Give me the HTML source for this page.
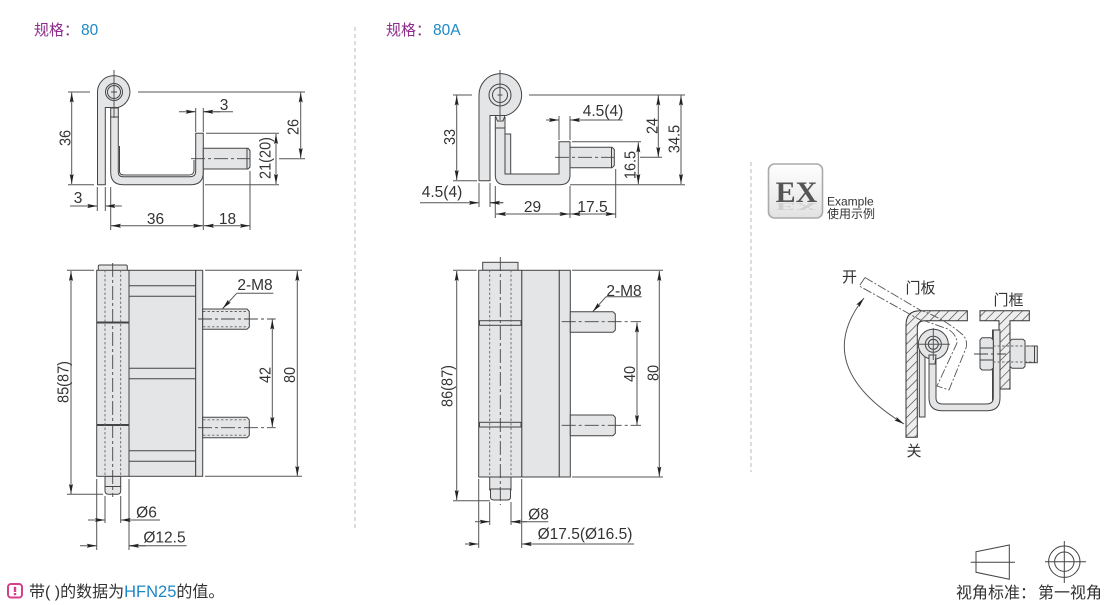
<!DOCTYPE html>
<html lang="zh"><head><meta charset="utf-8"><title>规格</title>
<style>
html,body{margin:0;padding:0;background:#fff;width:1110px;height:605px;overflow:hidden}
svg{display:block}
text{font-family:"Liberation Sans","Noto Sans CJK SC",sans-serif;fill:#333}
.t{font-size:15.5px;text-anchor:middle}
.r{font-size:14.5px;text-anchor:middle}
.c{font-size:15px;text-anchor:middle}
.p{fill:#e4e5e6;stroke:#444;stroke-width:1}
.l{stroke:#444;stroke-width:1;fill:none}
.d{stroke:#555;stroke-width:1;fill:none}
.a{stroke:#555;stroke-width:1;fill:none;marker-end:url(#ar)}
.b{stroke:#555;stroke-width:1;fill:none;marker-start:url(#ar);marker-end:url(#ar)}
.cl{stroke:#444;stroke-width:.9;fill:none;stroke-dasharray:14 3 3 3}
.dt{stroke:#666;stroke-width:.9;fill:none;stroke-dasharray:2.5 2}
.ph{stroke:#555;stroke-width:.9;fill:none;stroke-dasharray:9 2 2 2}
</style></head><body>
<svg width="1110" height="605" viewBox="0 0 1110 605" xmlns="http://www.w3.org/2000/svg">
<defs>
<marker id="ar" viewBox="0 0 10 4" refX="10" refY="2" markerWidth="10" markerHeight="4.6" markerUnits="userSpaceOnUse" orient="auto-start-reverse"><path d="M0 0L10 2L0 4L1.5 2Z" fill="#222"/></marker>
<pattern id="ht" width="6.5" height="6.5" patternUnits="userSpaceOnUse" patternTransform="rotate(-45)"><rect width="6.5" height="6.5" fill="#eeeeee"/><line x1="0" y1="0" x2="6.5" y2="0" stroke="#333" stroke-width="1.2"/></pattern>
<linearGradient id="ex" x1="0" y1="0" x2="0" y2="1"><stop offset="0" stop-color="#ffffff"/><stop offset="1" stop-color="#e2e2e2"/></linearGradient>
</defs>

<!-- headers -->
<text x="34" y="35" style="font-size:15px;fill:#8f2c8c">规格：<tspan x="81" style="fill:#1d87c6;font-size:15.5px">80</tspan></text>
<text x="386" y="35" style="font-size:15px;fill:#8f2c8c">规格：<tspan x="433" style="fill:#1d87c6;font-size:15.5px">80A</tspan></text>

<!-- dividers -->
<line x1="355" y1="27" x2="355" y2="528" stroke="#bbb" stroke-dasharray="4 3"/>
<line x1="751" y1="162" x2="751" y2="472" stroke="#bbb" stroke-dasharray="4 3"/>

<!-- ===== 80 side view ===== -->
<path class="p" d="M97.5 184.7V92A16.2 16.2 0 1 1 118 107.5L105.3 107.5V184.7Z"/>
<path class="p" d="M110.7 117H118.3V172Q118.3 176.7 123 176.7H190Q195.7 176.7 195.7 171V133.3H203.3V172Q203.3 184.7 191 184.7H123Q110.7 184.7 110.7 172Z"/>
<path class="l" d="M119.5 146V172Q120 175 124 175H189Q193.5 175 194 171V160"/>
<rect class="p" x="110.7" y="108" width="7.6" height="9"/>
<circle class="l" cx="114" cy="92" r="8.5" fill="#e4e5e6"/><circle class="l" cx="114" cy="92" r="6.5"/>
<path class="l" d="M111 92H117M114 89V95" stroke-width=".7"/>
<path class="p" d="M203.3 148.3H248L250 150.5V167L248 169H203.3Z"/>
<path class="l" d="M247 148.3V169"/>
<path class="cl" d="M191 158.7H250"/>
<path class="d" d="M114 70V118"/>
<path class="d" d="M68 92H90M138 92H305M68 184.7H94M205 184.7H279M206 133.3H279M279 158.7H305"/>
<path class="b" d="M71.7 92.5V184"/>
<path class="b" d="M300.7 92.5V158"/>
<path class="b" d="M276 134V184"/>
<text class="r" transform="translate(65,138) rotate(-90) scale(1,1.1)" y="5">36</text>
<text class="r" transform="translate(293,127) rotate(-90) scale(1,1.1)" y="5">26</text>
<text class="r" transform="translate(265,158) rotate(-90) scale(1,1.1)" y="5">21(20)</text>
<path class="d" d="M195.7 108V132M203.3 108V132M97.3 187V211M105.3 187V211M110.7 187V230M203.3 170V230M250 171V230"/>
<path class="a" d="M179 111.7H195.7"/><path class="d" d="M203.3 111.7H233"/><path class="a" d="M220 111.7H203.3"/>
<path class="a" d="M70 206H97.3"/><path class="d" d="M105.3 206H121.7"/><path class="a" d="M121.7 206H105.3"/>
<path class="b" d="M111 225.7H203"/><path class="b" d="M204 225.7H250"/>
<text class="t" x="224" y="110">3</text><text class="t" x="78" y="203">3</text>
<text class="t" x="155.5" y="224">36</text><text class="t" x="227.5" y="224">18</text>

<!-- ===== 80 front view ===== -->
<path class="p" d="M105 476.3H120.7V491Q120.7 494.3 117 494.3H109Q105 494.3 105 491Z"/>
<path class="l" d="M105 486.5H120.7"/>
<rect class="p" x="98.3" y="265" width="29" height="6" rx="1.5"/>
<rect class="p" x="129" y="270.3" width="66.7" height="206"/>
<rect class="p" x="195.7" y="270.3" width="7" height="206"/>
<rect class="p" x="96.7" y="270.3" width="32.3" height="206"/>
<path class="l" d="M129 285.7H195.7M129 296.3H195.7M129 368.3H195.7M129 378.7H195.7M129 450.7H195.7M129 461.3H195.7"/>
<path d="M96.7 322.5H129M96.7 425H129" stroke="#444" stroke-width="2"/>
<path class="dt" d="M105 270V476M120.7 270V476"/>
<path class="cl" d="M112.7 263V497"/>
<path class="p" d="M202.7 309H247L249.3 311.5V327L247 329.3H202.7Z"/><path class="p" d="M202.7 417.3H247L249.3 419.8V435.3L247 437.7H202.7Z"/>
<path class="dt" d="M203 311.5H247M203 326.8H247M203 419.8H247M203 435.2H247"/>
<path class="cl" d="M198 319H275.7M198 427.7H275.7"/>
<path class="d" d="M205 270.3H302M205 476.3H302M67 270.3H94M67 494.3H103"/>
<path class="b" d="M272.3 319.5V427"/><path class="b" d="M297.3 271V476"/><path class="b" d="M71 271V494"/>
<text class="r" transform="translate(265,375) rotate(-90) scale(1,1.1)" y="5">42</text>
<text class="r" transform="translate(289.5,375) rotate(-90) scale(1,1.1)" y="5">80</text>
<text class="r" transform="translate(63,382) rotate(-90) scale(1,1.1)" y="5">85(87)</text>
<text class="t" x="255" y="290">2-M8</text>
<path class="d" d="M273.3 293.3H236.7"/><path class="a" d="M236.7 293.3L222.7 308.5"/>
<path class="d" d="M96.7 479V550M129 479V550M105 496V523M120.7 496V523"/>
<path class="a" d="M88 520H105"/><path class="d" d="M120.7 520H160"/><path class="a" d="M137 520H120.7"/>
<path class="a" d="M80 545.7H96.7"/><path class="d" d="M129 545.7H186.7"/><path class="a" d="M146 545.7H129"/>
<text class="t" x="146.5" y="517.5">Ø6</text><text class="t" x="164.5" y="542.5">Ø12.5</text>

<!-- ===== 80A side view ===== -->
<path class="p" d="M479 180.7V95A21.3 21.3 0 1 1 506 115.5L490 115.5V180.7Z"/>
<rect class="p" x="505" y="134" width="5.7" height="40"/>
<path class="p" d="M495.3 117.5H505V174H559V141.7H570V175Q570 184.7 560 184.7H505Q495.3 184.7 495.3 175Z"/>
<path class="l" d="M495.3 128H505"/>
<path class="p" d="M495.3 115.5H505L503 121H497.5Z"/>
<circle class="l" cx="500" cy="95" r="11" fill="#e4e5e6"/><circle class="l" cx="500" cy="95" r="7.5"/>
<path class="l" d="M497.5 95H502.5M500 92.5V97.5" stroke-width=".7"/>
<path class="p" d="M570 147.3H612L614.3 149.5V165.5L612 167.7H570Z"/>
<path class="l" d="M611.5 147.3V167.7"/>
<path class="cl" d="M555 157.3H614"/>
<path class="d" d="M500 70V120"/>
<path class="d" d="M453 95H472M529 95H685M453 180.7H477M572 141.7H641M570 184.7H685M640 157.3H662"/>
<path class="b" d="M456.7 95.5V180"/><path class="b" d="M658.3 95.5V157"/><path class="b" d="M681 95.5V184"/><path class="b" d="M638.3 142.5V184"/>
<text class="r" transform="translate(449.5,137) rotate(-90) scale(1,1.1)" y="5">33</text>
<text class="r" transform="translate(652,126) rotate(-90) scale(1,1.1)" y="5">24</text>
<text class="r" transform="translate(674,139) rotate(-90) scale(1,1.1)" y="5">34.5</text>
<text class="r" transform="translate(630,165) rotate(-90) scale(1,1.1)" y="5">16.5</text>
<path class="d" d="M559 116V140M570 116V140M479 183V207M490 183V207M495.3 186V218M570 186V218M615.7 169V218"/>
<path class="a" d="M546 120H559"/><path class="d" d="M570 120H622.7"/><path class="a" d="M585 120H570"/>
<path class="a" d="M420 202.7H479"/><path class="d" d="M490 202.7H503.3"/><path class="a" d="M503.3 202.7H490"/>
<path class="b" d="M496 214H569.5"/><path class="b" d="M570.5 214H615.5"/>
<text class="t" x="603" y="116">4.5(4)</text><text class="t" x="442" y="197">4.5(4)</text>
<text class="t" x="532.5" y="212">29</text><text class="t" x="592.5" y="212">17.5</text>

<!-- ===== 80A front view ===== -->
<path class="p" d="M489.7 477H511V490H489.7Z"/>
<path class="p" d="M490.5 489H510.5V497Q510.5 500 507 500H494Q490.5 500 490.5 497Z"/>
<rect class="p" x="482.7" y="262.3" width="35.3" height="8"/>
<rect class="p" x="521.7" y="270.3" width="37.6" height="206.7"/>
<rect class="p" x="559.3" y="270.3" width="11" height="206.7"/>
<rect class="p" x="478.7" y="270.3" width="43" height="206.7"/>
<rect class="p" x="479.5" y="320.7" width="41.5" height="4.6"/>
<rect class="p" x="479.5" y="422.3" width="41.5" height="4.7"/>
<path class="dt" d="M489.7 270V477M511 270V477"/>
<path class="cl" d="M500.3 257V505"/>
<path class="p" d="M570.3 311.7H613L615.3 314V330L613 332.3H570.3Z"/><path class="p" d="M570.3 415H613L615.3 417.3V433.4L613 435.7H570.3Z"/>
<path class="cl" d="M561.7 321.7H641M561.7 425.3H641"/>
<path class="d" d="M572 270.3H663M572 477H663M453 270.3H476.7M453 500.7H490"/>
<path class="b" d="M637 322.5V425"/><path class="b" d="M659.3 271V476.5"/><path class="b" d="M456.7 271V500"/>
<text class="r" transform="translate(629.5,374) rotate(-90) scale(1,1.1)" y="5">40</text>
<text class="r" transform="translate(653,373) rotate(-90) scale(1,1.1)" y="5">80</text>
<text class="r" transform="translate(447,386) rotate(-90) scale(1,1.1)" y="5">86(87)</text>
<text class="t" x="624" y="296">2-M8</text>
<path class="d" d="M641.7 296.7H606"/><path class="a" d="M606 296.7L592.7 311.7"/>
<path class="d" d="M478.7 479V548M521.7 479V548M489.7 502V525M511 502V525"/>
<path class="a" d="M475 521.7H489.7"/><path class="d" d="M511 521.7H548.3"/><path class="a" d="M527 521.7H511"/>
<path class="a" d="M465 544H478.7"/><path class="d" d="M521.7 544H634"/><path class="a" d="M538 544H521.7"/>
<text class="t" x="538.5" y="519.5">Ø8</text><text class="t" x="585" y="539">Ø17.5(Ø16.5)</text>

<!-- ===== EX icon ===== -->
<rect x="768.5" y="164" width="54" height="54" rx="6" fill="url(#ex)" stroke="#aaa" stroke-width="1.6"/>
<text x="796.5" y="202" style="font-family:'Liberation Serif',serif;font-weight:bold;font-size:30px;fill:#555;text-anchor:middle">EX</text>
<text transform="translate(796.5,203) scale(1,-0.35)" style="font-family:'Liberation Serif',serif;font-weight:bold;font-size:30px;fill:#d0d0d0;text-anchor:middle">EX</text>
<text x="827" y="205.5" style="font-size:12px">Example</text>
<text x="827" y="218" style="font-size:12px">使用示例</text>

<!-- ===== installation ===== -->
<path d="M906 437.3V325Q906 310.7 920 310.7H967.3V320.7H925Q917.3 320.7 917.3 328V437.3Z" fill="url(#ht)" stroke="#333"/>
<path d="M980 310.7H1029.3V320.7H1010V389H999V320.7H980Z" fill="url(#ht)" stroke="#333"/>
<rect class="p" x="992.5" y="330" width="6.5" height="70"/>
<rect class="p" x="919.3" y="350" width="5.7" height="67"/>
<path class="p" d="M929 358H936V398Q936 404 943 404H986Q993.3 404 993.3 398V330H1000V398Q1000 410.7 987 410.7H942Q929 410.7 929 398Z"/>
<circle class="p" cx="933.3" cy="344.3" r="15"/>
<path class="p" d="M929 355H936L935 364H929Z"/>
<circle class="l" cx="933.3" cy="344.3" r="8" fill="#e4e5e6"/><circle class="l" cx="933.3" cy="344.3" r="5"/>
<path class="d" d="M917 344.3H950M933.3 328V360"/>
<path class="p" d="M980 340L982 337.7H991L993.3 340V368L991 370H982L980 368Z"/>
<path class="l" d="M980 348H993M980 360H993"/>
<path class="p" d="M1010 341L1012 339.3H1023L1025 341V366.5L1023 368.3H1012L1010 366.5Z"/>
<rect class="p" x="1025" y="346" width="12.3" height="16.7"/>
<path class="l" d="M1034.5 346V362.7"/>
<path class="dt" d="M993 346H1034M993 362H1034"/>
<path class="cl" d="M974 354H1006"/>
<path class="ph" d="M865 277.5L859.3 286L923 321.5M865 277.5L920 310Q945 319 963 335Q968 341 966 348L949 390L937 386L957 343Q957 335 948 329L925 321"/>
<path class="d" marker-end="url(#ar)" marker-start="url(#ar)" d="M864 298Q810 366 904 424"/>
<text class="c" x="849.5" y="282">开</text>
<text class="c" x="920.5" y="293">门板</text>
<text class="c" x="1008.5" y="305">门框</text>
<text class="c" x="914" y="456">关</text>

<!-- ===== projection symbol ===== -->
<path class="l" d="M976 551.7L1009.3 545V579.3L976 572.3Z"/>
<path class="l" d="M970.7 562.3H1015"/>
<circle class="l" cx="1064.3" cy="561.7" r="15.7"/><circle class="l" cx="1064.3" cy="561.7" r="9.7"/>
<path class="l" d="M1045 561.7H1086M1064.3 541V583"/>
<text x="956" y="598" style="font-size:16px">视角标准：</text>
<text x="1038" y="598" style="font-size:16px">第一视角</text>

<!-- ===== note ===== -->
<rect x="8" y="584" width="14" height="13.5" rx="3" fill="#fff" stroke="#d5408c" stroke-width="2"/>
<rect x="13.8" y="586.8" width="2.4" height="5.2" fill="#d5408c"/><rect x="13.8" y="593" width="2.4" height="2.2" fill="#d5408c"/>
<text x="29" y="597" style="font-size:16px">带( )的数据为<tspan style="fill:#1d87c6;font-size:16.5px">HFN25</tspan>的值。</text>
</svg>
</body></html>
